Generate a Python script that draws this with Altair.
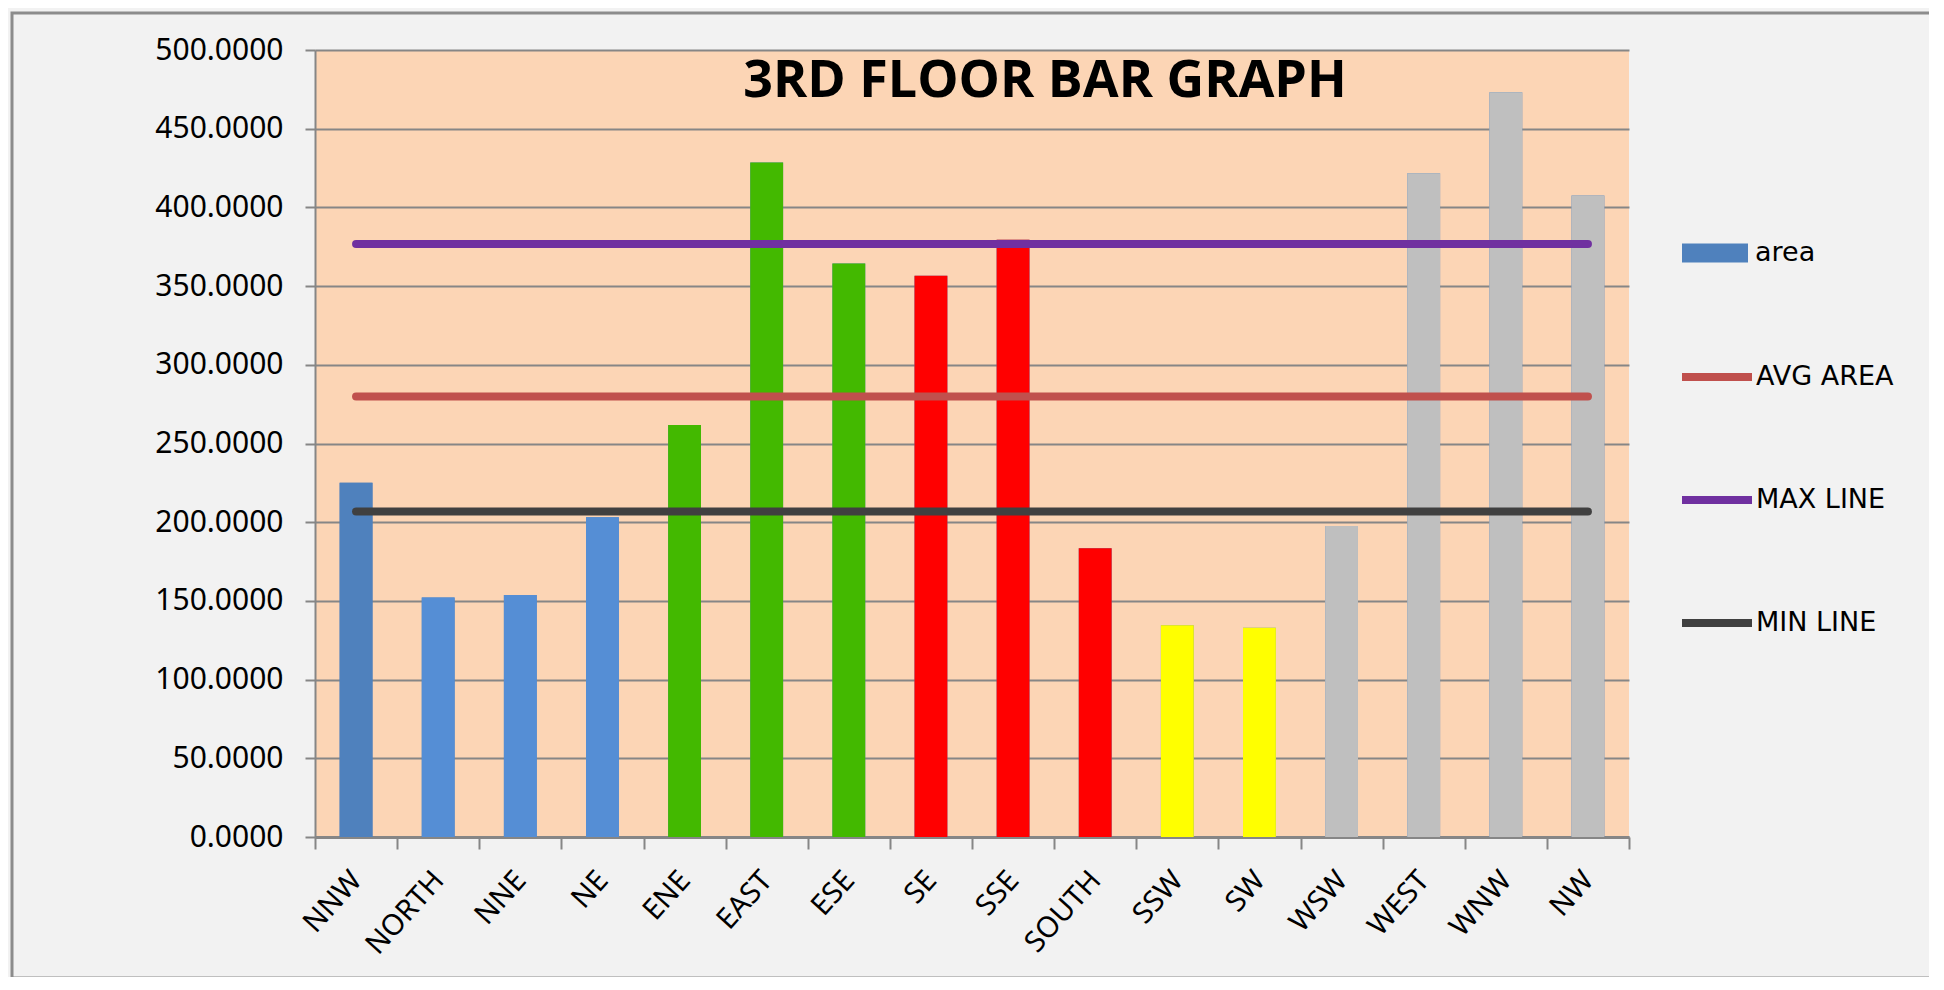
import altair as alt
import pandas as pd

categories = ["NNW", "NORTH", "NNE", "NE", "ENE", "EAST", "ESE", "SE",
              "SSE", "SOUTH", "SSW", "SW", "WSW", "WEST", "WNW", "NW"]
areas = [225.0, 152.2, 153.8, 203.2, 261.8, 428.5, 364.3, 356.6,
         379.5, 183.5, 134.5, 132.9, 197.6, 421.7, 473.1, 407.6]
bar_colors = ["#4f81bd", "#558ed5", "#558ed5", "#558ed5",
              "#43b900", "#43b900", "#43b900",
              "#ff0000", "#ff0000", "#ff0000",
              "#ffff00", "#ffff00",
              "#bfbfbf", "#bfbfbf", "#bfbfbf", "#bfbfbf"]
line_names = ["AVG AREA", "MAX LINE", "MIN LINE"]
line_values = [279.9, 376.8, 206.8]
line_colors = ["#c0504d", "#7030a0", "#404040"]
y_ticks = [0, 50, 100, 150, 200, 250, 300, 350, 400, 450, 500]
title_text = ["3RD FLOOR BAR GRAPH"]

bars_df = pd.DataFrame({"dir": categories, "area": areas,
                        "col": bar_colors, "series": ["area"] * len(categories)})
lines_df = pd.DataFrame([{"dir": c, "series": n, "value": v}
                         for n, v in zip(line_names, line_values)
                         for c in categories])
frame_df = pd.DataFrame({"k": [0]})
title_df = pd.DataFrame({"t": title_text})

GRID = "#868686"

x_enc = alt.X("dir:N", sort=categories,
              scale=alt.Scale(paddingInner=0, paddingOuter=0),
              axis=alt.Axis(title=None, labelAngle=-48, labelAlign="right",
                            labelBaseline="middle", tickBand="extent",
                            tickSize=12, labelPadding=26, labelFont="Noto Sans",
                            labelFontSize=29, labelColor="black",
                            domainColor=GRID, domainWidth=3,
                            tickColor=GRID, tickWidth=2, grid=False))
y_scale = alt.Scale(domain=[0, 500], nice=False)
y_axis = alt.Axis(title=None, values=y_ticks, format=".4f",
                  labelFont="Noto Sans", labelFontSize=30, labelColor="black",
                  labelPadding=22, tickSize=10, tickColor=GRID, tickWidth=2,
                  domainColor=GRID, domainWidth=2,
                  grid=True, gridColor=GRID, gridWidth=2)

BAR_W = alt.RelativeBandSize(0.4)

legend_bars = alt.Chart(bars_df).mark_bar(width=BAR_W).encode(
    x=x_enc,
    y=alt.Y("area:Q", scale=y_scale, axis=y_axis),
    color=alt.Color("series:N",
                    scale=alt.Scale(domain=["area"], range=["#4f81bd"]),
                    legend=alt.Legend(title=None, orient="none",
                                      legendX=1367, legendY=170,
                                      symbolType="M-1,-0.29H1V0.29H-1Z",
                                      symbolSize=4356, symbolStrokeWidth=0,
                                      symbolOpacity=1,
                                      labelFont="DejaVu Sans", labelFontSize=27,
                                      labelColor="black", labelOffset=7,
                                      padding=0)),
)

color_bars = alt.Chart(bars_df).mark_bar(width=BAR_W).encode(
    x=x_enc,
    y=alt.Y("area:Q", scale=y_scale, axis=y_axis),
    fill=alt.Fill("col:N", scale=None),
)

lines = alt.Chart(lines_df).mark_line(strokeWidth=8, strokeCap="round").encode(
    x=x_enc,
    y=alt.Y("value:Q", scale=y_scale, axis=y_axis),
    stroke=alt.Stroke("series:N",
                      scale=alt.Scale(domain=line_names, range=line_colors),
                      sort=line_names,
                      legend=alt.Legend(title=None, orient="none",
                                        legendX=1363, legendY=288,
                                        symbolType="stroke", symbolSize=4900,
                                        symbolStrokeWidth=8,
                                        rowPadding=68,
                                        labelFont="DejaVu Sans", labelFontSize=27,
                                        labelColor="black", labelOffset=0,
                                        padding=0)),
)

title = alt.Chart(title_df).mark_text(
    font="Open Sans", fontSize=52, fontWeight="bold", color="black",
    align="center", baseline="alphabetic",
).encode(text="t:N", x=alt.value(730), y=alt.value(47))

frame = alt.Chart(frame_df).mark_rect(fillOpacity=0, stroke="#8c8c8c",
                                      strokeWidth=3).encode(
    x=alt.value(-303), x2=alt.value(1616),
    y=alt.value(-37), y2=alt.value(928),
)

chart = alt.layer(legend_bars, color_bars, lines, title, frame).properties(
    width=1314, height=787,
    autosize=alt.AutoSizeParams(type="none"),
    padding={"left": 307, "top": 42, "right": 300, "bottom": 140},
    background="#f2f2f2",
).configure_view(fill="#fcd5b5", strokeWidth=0)

chart.save("out.html", embed_options={"renderer": "svg", "actions": False})
